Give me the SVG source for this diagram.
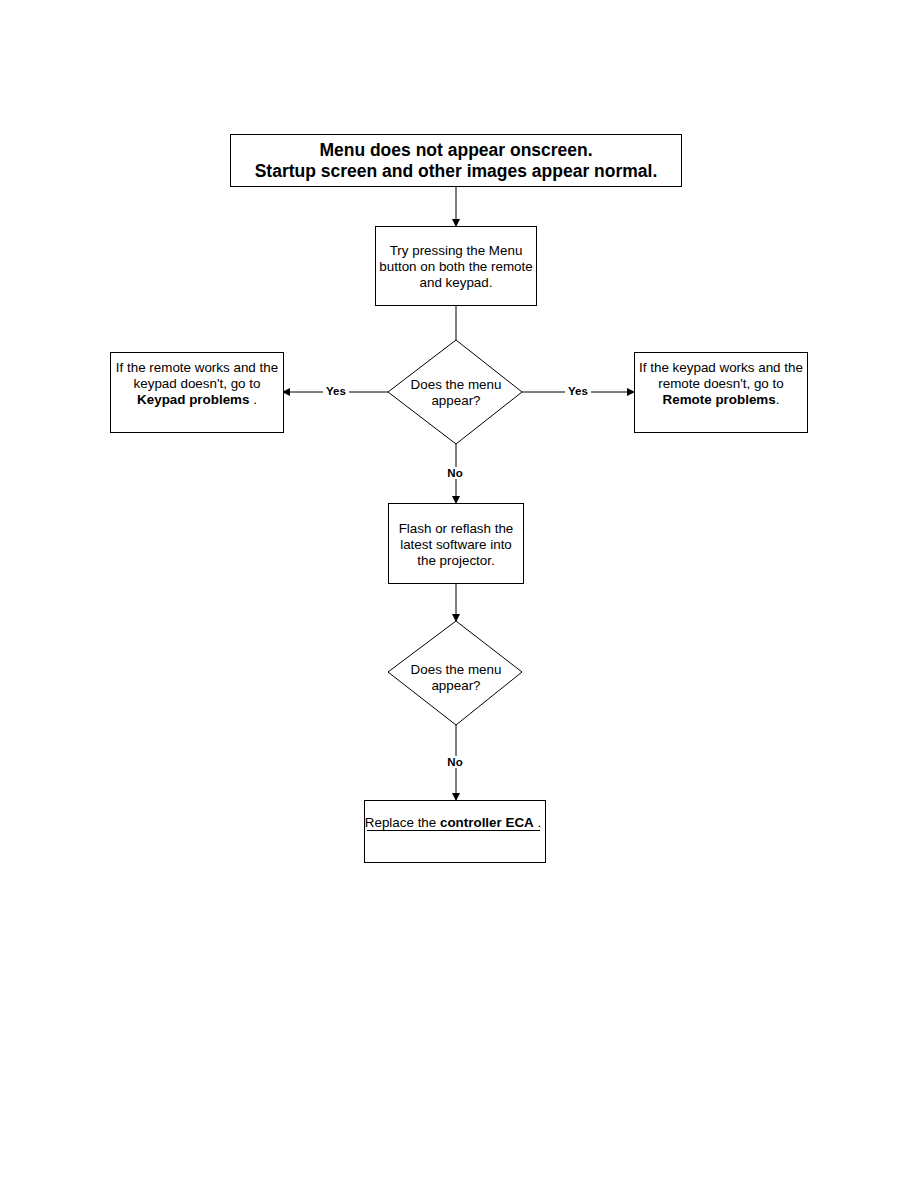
<svg xmlns="http://www.w3.org/2000/svg" width="918" height="1188" viewBox="0 0 918 1188">
<style>
.box{fill:#fff;stroke:#000;stroke-width:1}
.t{font-family:"Liberation Sans",Arial,sans-serif;font-size:13.4px;fill:#000;text-anchor:middle}
.h{font-family:"Liberation Sans",Arial,sans-serif;font-size:17.5px;font-weight:bold;fill:#000;text-anchor:middle}
.b{font-weight:bold}
.lbl{font-family:"Liberation Sans",Arial,sans-serif;font-size:11.5px;font-weight:bold;fill:#000;text-anchor:middle}
.c{stroke:#000;stroke-width:1;fill:none}
</style>
<defs>
<marker id="ah" markerWidth="8" markerHeight="8" refX="7" refY="4" orient="auto" markerUnits="userSpaceOnUse">
<path d="M0,0 L8,4 L0,8 Z" fill="#000"/>
</marker>
</defs>
<rect width="918" height="1188" fill="#fff"/>
<g id="connectors">
<line class="c" x1="456" y1="186" x2="456" y2="226" marker-end="url(#ah)"/>
<line class="c" x1="456" y1="305" x2="456" y2="340"/>
<line class="c" x1="388" y1="392" x2="283" y2="392" marker-end="url(#ah)"/>
<line class="c" x1="522" y1="392" x2="634" y2="392" marker-end="url(#ah)"/>
<line class="c" x1="456" y1="444" x2="456" y2="503" marker-end="url(#ah)"/>
<line class="c" x1="456" y1="583" x2="456" y2="621" marker-end="url(#ah)"/>
<line class="c" x1="456" y1="725" x2="456" y2="800" marker-end="url(#ah)"/>
<rect x="323" y="385" width="26" height="12" fill="#fff"/>
<text class="lbl" x="336" y="395">Yes</text>
<rect x="565" y="385" width="26" height="12" fill="#fff"/>
<text class="lbl" x="578" y="395">Yes</text>
<rect x="445" y="467" width="20" height="12" fill="#fff"/>
<text class="lbl" x="455" y="477">No</text>
<rect x="445" y="756" width="20" height="12" fill="#fff"/>
<text class="lbl" x="455" y="766">No</text>
</g>
<g id="n1">
<rect class="box" x="230.5" y="134.5" width="451" height="52"/>
<text class="h" x="456" y="156">Menu does not appear onscreen.</text>
<text class="h" x="456" y="177">Startup screen and other images appear normal.</text>
</g>
<g id="n2">
<rect class="box" x="375.5" y="226.5" width="161" height="79"/>
<text class="t" x="456" y="255">Try pressing the Menu</text>
<text class="t" x="456" y="271">button on both the remote</text>
<text class="t" x="456" y="287">and keypad.</text>
</g>
<g id="d1">
<polygon class="box" points="456,340 522,392 456,444 388,392"/>
<text class="t" x="456" y="389">Does the menu</text>
<text class="t" x="456" y="405">appear?</text>
</g>
<g id="n3">
<rect class="box" x="110.5" y="352.5" width="173" height="80"/>
<text class="t" x="197" y="372">If the remote works and the</text>
<text class="t" x="197" y="388">keypad doesn't, go to</text>
<text class="t" x="197" y="404"><tspan class="b">Keypad problems</tspan> .</text>
</g>
<g id="n4">
<rect class="box" x="634.5" y="352.5" width="173" height="80"/>
<text class="t" x="721" y="372">If the keypad works and the</text>
<text class="t" x="721" y="388">remote doesn't, go to</text>
<text class="t" x="721" y="404"><tspan class="b">Remote problems</tspan>.</text>
</g>
<g id="n5">
<rect class="box" x="388.5" y="503.5" width="135" height="80"/>
<text class="t" x="456" y="533">Flash or reflash the</text>
<text class="t" x="456" y="549">latest software into</text>
<text class="t" x="456" y="565">the projector.</text>
</g>
<g id="d2">
<polygon class="box" points="456,621 522,672 456,725 388,672"/>
<text class="t" x="456" y="674">Does the menu</text>
<text class="t" x="456" y="690">appear?</text>
</g>
<g id="n6">
<rect class="box" x="364.5" y="800.5" width="181" height="62"/>
<text class="t" x="453" y="827">Replace the <tspan class="b">controller ECA</tspan> .</text>
<line class="c" x1="367" y1="830.5" x2="540" y2="830.5"/>
</g>
</svg>
